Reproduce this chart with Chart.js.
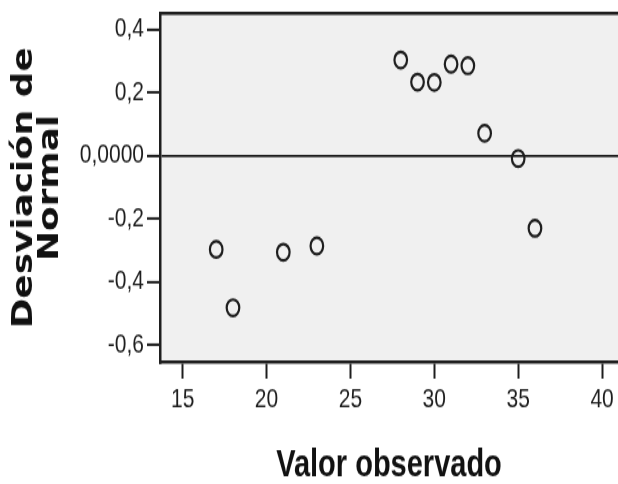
<!DOCTYPE html>
<html>
<head>
<meta charset="utf-8">
<script src="https://cdn.jsdelivr.net/npm/chart.js@4/dist/chart.umd.min.js"></script>
<style>
  html, body { margin: 0; padding: 0; background: #fff; }
</style>
</head>
<body>
<canvas id="chart" width="618" height="372" style="display:block;width:618px;height:484px"></canvas>
<script>
// P-P normal sin tendencia - valores observados vs desviacion de normal
const observados = [17, 18, 21, 23, 28, 29, 30, 31, 32, 33, 35, 36];
const desviacion = [-0.297, -0.482, -0.306, -0.286, 0.303, 0.233, 0.232, 0.290, 0.285, 0.071, -0.009, -0.230];

const xTickValues = [15, 20, 25, 30, 35, 40];
const xTickLabels = ['15', '20', '25', '30', '35', '40'];
const yTickValues = [-0.6, -0.4, -0.2, 0, 0.2, 0.4];
const yTickLabels = ['-0,6', '-0,4', '-0,2', '0,0000', '0,2', '0,4'];

const ink = '#1e1e1e';
const tickFont = { family: "'Liberation Sans', Arial, sans-serif", size: 21 };

// fondo gris del area y borde superior
const framePlugin = {
    id: 'frame',
    beforeDraw(chart) {
        const { ctx, chartArea: a } = chart;
        ctx.save();
        ctx.fillStyle = '#fff';
        ctx.fillRect(0, 0, chart.width, chart.height);
        ctx.fillStyle = '#f0f0f0';
        ctx.fillRect(a.left, a.top, a.right - a.left, a.bottom - a.top);
        ctx.restore();
    },
    afterDraw(chart) {
        const { ctx, chartArea: a } = chart;
        ctx.save();
        ctx.strokeStyle = ink;
        ctx.lineWidth = 2.5;
        ctx.beginPath();
        ctx.moveTo(a.left, a.top);
        ctx.lineTo(a.right, a.top);
        ctx.stroke();
        ctx.restore();
    }
};

new Chart(document.getElementById('chart').getContext('2d'), {
    type: 'scatter',
    data: {
        datasets: [{
            data: observados.map((x, i) => ({ x: x, y: desviacion[i] })),
            pointStyle: 'circle',
            pointRadius: 6.3,
            pointHoverRadius: 6.3,
            borderWidth: 2.2,
            borderColor: ink,
            backgroundColor: 'rgba(0,0,0,0)'
        }]
    },
    options: {
        responsive: false,
        devicePixelRatio: 1,
        animation: false,
        layout: { autoPadding: false, padding: { top: 10.2, right: 0, bottom: 0, left: 0 } },
        plugins: {
            legend: { display: false },
            tooltip: { enabled: false }
        },
        scales: {
            x: {
                type: 'linear',
                min: 13.65,
                max: 40.95,
                afterBuildTicks: s => { s.ticks = xTickValues.map(v => ({ value: v })); },
                afterFit: s => { s.height = 93.5; s.paddingLeft = 0; s.paddingRight = 0; },
                ticks: {
                    color: ink,
                    font: tickFont,
                    padding: 4,
                    maxRotation: 0,
                    autoSkip: false,
                    callback: (v, i) => xTickLabels[i]
                },
                grid: {
                    drawOnChartArea: false,
                    tickLength: 12.5,
                    tickColor: ink,
                    tickWidth: 2
                },
                border: { display: true, color: ink, width: 2.5 },
                title: {
                    display: true,
                    text: 'Valor observado',
                    color: '#111',
                    font: { family: "'Liberation Sans', Arial, sans-serif", size: 29, weight: 'bold', lineHeight: 1 },
                    padding: { top: 0, bottom: 0 }
                }
            },
            y: {
                type: 'linear',
                min: -0.655,
                max: 0.451,
                afterBuildTicks: s => { s.ticks = yTickValues.map(v => ({ value: v })); },
                afterFit: s => { s.width = 160; s.paddingTop = 0; s.paddingBottom = 0; },
                ticks: {
                    color: ink,
                    font: tickFont,
                    padding: 3,
                    autoSkip: false,
                    callback: (v, i) => yTickLabels[i]
                },
                grid: {
                    drawOnChartArea: true,
                    color: c => (c.tick && Math.abs(c.tick.value) < 1e-9) ? ink : 'rgba(0,0,0,0)',
                    lineWidth: 1.8,
                    tickLength: 13,
                    tickColor: ink,
                    tickWidth: 2
                },
                border: { display: true, color: ink, width: 2.5 },
                title: {
                    display: true,
                    text: ['Desviación de', 'Normal'],
                    color: '#111',
                    font: { family: "'DejaVu Sans', Verdana, sans-serif", size: 27.5, weight: 'bold', lineHeight: 0.95 },
                    padding: { top: 12, bottom: 0 }
                }
            }
        }
    },
    plugins: [framePlugin]
});
</script>
</body>
</html>
